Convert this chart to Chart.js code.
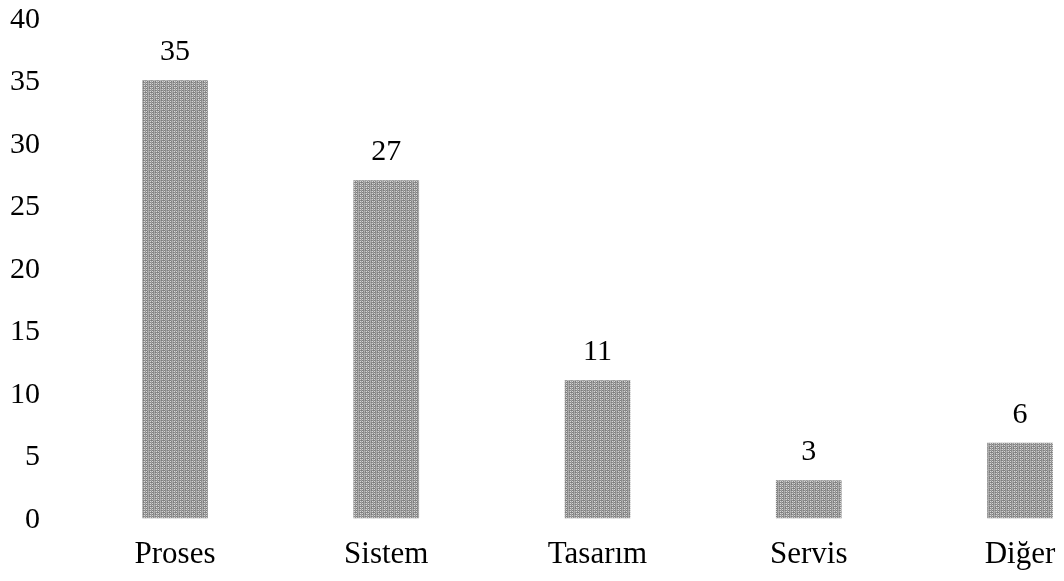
<!DOCTYPE html>
<html>
<head>
<meta charset="utf-8">
<script src="https://cdn.jsdelivr.net/npm/chart.js"></script>
<style>
  html, body { margin: 0; padding: 0; background: #fff; }
  #wrap { position: relative; width: 1064px; height: 581px; }
</style>
</head>
<body>
<div id="wrap"><canvas id="c"></canvas></div>
<script>
// categories and values
const categories = ['Proses', 'Sistem', 'Tasarım', 'Servis', 'Diğer'];
const counts = [35, 27, 11, 3, 6];
const yTicks = [0, 5, 10, 15, 20, 25, 30, 35, 40];

const FONT = "'Liberation Serif', 'Times New Roman', serif";

// speckled grey fill, like the scanned bars
function makePattern() {
    const p = document.createElement('canvas');
    p.width = 6; p.height = 6;
    const g = p.getContext('2d');
    const shades = ['#8c8c8c', '#c8c8c8', '#a4a4a4', '#d6d6d6', '#7e7e7e', '#b4b4b4'];
    for (let y = 0; y < 6; y++) {
        for (let x = 0; x < 6; x++) {
            g.fillStyle = shades[(x * 2 + y * 3 + (x * y) % 4) % shades.length];
            g.fillRect(x, y, 1, 1);
        }
    }
    return g.createPattern(p, 'repeat');
}

// value labels above the bars
const valueLabels = {
    id: 'valueLabels',
    afterDatasetsDraw(chart) {
        const ctx = chart.ctx;
        ctx.save();
        ctx.font = '30px ' + FONT;
        ctx.fillStyle = '#000';
        ctx.textAlign = 'center';
        ctx.textBaseline = 'middle';
        chart.getDatasetMeta(0).data.forEach((bar, i) => {
            ctx.fillText(String(counts[i]), bar.x, bar.y - 28);
        });
        ctx.restore();
    }
};

new Chart(document.getElementById('c'), {
    type: 'bar',
    data: {
        labels: categories,
        datasets: [{
            data: counts,
            backgroundColor: makePattern(),
            borderWidth: 0,
            barThickness: 65,
            clip: false
        }]
    },
    options: {
        responsive: true,
        maintainAspectRatio: false,
        animation: false,
        layout: { padding: { top: 18, right: 44, left: 0, bottom: 0 } },
        plugins: {
            legend: { display: false },
            tooltip: { enabled: false }
        },
        scales: {
            x: {
                offset: false,
                grid: { display: false, drawTicks: false },
                border: { display: false },
                ticks: {
                    color: '#000',
                    font: { family: FONT, size: 31 },
                    padding: 18,
                    maxRotation: 0
                },
                afterFit(scale) {
                    scale.height = 63;
                    scale.paddingLeft = 0;
                    scale.paddingRight = 0;
                }
            },
            y: {
                min: 0,
                max: 40,
                grid: { display: false, drawTicks: false },
                border: { display: false },
                afterBuildTicks(scale) { scale.ticks = yTicks.map(v => ({ value: v })); },
                ticks: {
                    color: '#000',
                    font: { family: FONT, size: 30 },
                    padding: 135,
                    labelOffset: 2
                },
                // wide gap between labels and first bar; drop the padding the big gap adds above/below
                afterFit(scale) {
                    scale.width = 175;
                    scale.paddingTop = 0;
                    scale.paddingBottom = 0;
                }
            }
        }
    },
    plugins: [valueLabels]
});
</script>
</body>
</html>
